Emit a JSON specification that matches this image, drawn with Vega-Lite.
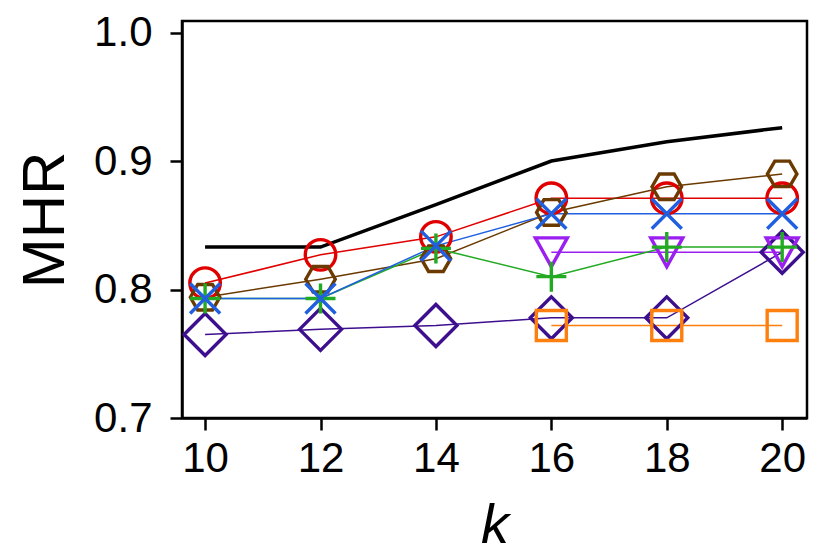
{
  "$schema": "https://vega.github.io/schema/vega-lite/v6.json",
  "width": 625,
  "height": 397,
  "autosize": {"type": "none"},
  "padding": {"left": 182, "top": 21, "right": 23, "bottom": 136},
  "background": "white",
  "config": {
    "view": {"stroke": "black", "strokeWidth": 2.5},
    "font": "Liberation Sans",
    "axis": {
      "grid": false,
      "domainColor": "black",
      "domainWidth": 2.5,
      "tickColor": "black",
      "tickWidth": 2.5,
      "tickSize": 12,
      "labelColor": "black",
      "labelFont": "Liberation Sans",
      "labelFontSize": 42,
      "titleColor": "black",
      "titleFont": "Liberation Sans",
      "titleFontWeight": "normal"
    }
  },
  "data": {
    "values": [
      {"k": 10, "mhr": 0.833, "series": "line"},
      {"k": 12, "mhr": 0.833, "series": "line"},
      {"k": 14, "mhr": 0.866, "series": "line"},
      {"k": 16, "mhr": 0.900, "series": "line"},
      {"k": 18, "mhr": 0.915, "series": "line"},
      {"k": 20, "mhr": 0.926, "series": "line"},
      {"k": 10, "mhr": 0.765, "series": "diamond"},
      {"k": 12, "mhr": 0.769, "series": "diamond"},
      {"k": 14, "mhr": 0.772, "series": "diamond"},
      {"k": 16, "mhr": 0.778, "series": "diamond"},
      {"k": 18, "mhr": 0.778, "series": "diamond"},
      {"k": 20, "mhr": 0.829, "series": "diamond"},
      {"k": 10, "mhr": 0.805, "series": "circle"},
      {"k": 12, "mhr": 0.827, "series": "circle"},
      {"k": 14, "mhr": 0.841, "series": "circle"},
      {"k": 16, "mhr": 0.871, "series": "circle"},
      {"k": 18, "mhr": 0.871, "series": "circle"},
      {"k": 20, "mhr": 0.871, "series": "circle"},
      {"k": 10, "mhr": 0.794, "series": "hexagon"},
      {"k": 12, "mhr": 0.808, "series": "hexagon"},
      {"k": 14, "mhr": 0.824, "series": "hexagon"},
      {"k": 16, "mhr": 0.860, "series": "hexagon"},
      {"k": 18, "mhr": 0.880, "series": "hexagon"},
      {"k": 20, "mhr": 0.890, "series": "hexagon"},
      {"k": 16, "mhr": 0.829, "series": "triangle"},
      {"k": 18, "mhr": 0.829, "series": "triangle"},
      {"k": 20, "mhr": 0.829, "series": "triangle"},
      {"k": 16, "mhr": 0.772, "series": "square"},
      {"k": 18, "mhr": 0.772, "series": "square"},
      {"k": 20, "mhr": 0.772, "series": "square"},
      {"k": 10, "mhr": 0.793, "series": "plus"},
      {"k": 12, "mhr": 0.793, "series": "plus"},
      {"k": 14, "mhr": 0.832, "series": "plus"},
      {"k": 16, "mhr": 0.810, "series": "plus"},
      {"k": 18, "mhr": 0.833, "series": "plus"},
      {"k": 20, "mhr": 0.833, "series": "plus"},
      {"k": 10, "mhr": 0.793, "series": "cross"},
      {"k": 12, "mhr": 0.793, "series": "cross"},
      {"k": 14, "mhr": 0.834, "series": "cross"},
      {"k": 16, "mhr": 0.859, "series": "cross"},
      {"k": 18, "mhr": 0.859, "series": "cross"},
      {"k": 20, "mhr": 0.859, "series": "cross"}
    ]
  },
  "encoding": {
    "x": {
      "field": "k",
      "type": "quantitative",
      "scale": {"domain": [9.6, 20.43], "nice": false, "zero": false},
      "axis": {
        "values": [10, 12, 14, 16, 18, 20],
        "labelPadding": 8,
        "title": "k",
        "titleFontSize": 56,
        "titleFontStyle": "italic",
        "titleBaseline": "alphabetic",
        "titleY": 124
      }
    },
    "y": {
      "field": "mhr",
      "type": "quantitative",
      "scale": {"domain": [0.7, 1.009], "nice": false, "zero": false},
      "axis": {
        "values": [0.7, 0.8, 0.9, 1.0],
        "format": ".1f",
        "labelPadding": 18,
        "title": "MHR",
        "titleFontSize": 60,
        "titleBaseline": "alphabetic",
        "titleX": -119
      }
    },
    "color": {
      "field": "series",
      "type": "nominal",
      "legend": null,
      "scale": {
        "domain": ["line", "circle", "hexagon", "cross", "plus", "triangle", "square", "diamond"],
        "range": ["#000000", "#e00000", "#6b3a00", "#1f5fe0", "#22aa22", "#9b1ff0", "#ff7f0e", "#3d0f8f"]
      }
    }
  },
  "layer": [
    {
      "transform": [{"filter": "datum.series === 'line'"}],
      "mark": {"type": "line", "strokeWidth": 3.5}
    },
    {
      "transform": [{"filter": "datum.series !== 'line'"}],
      "mark": {"type": "line", "strokeWidth": 1.5}
    },
    {
      "transform": [{"filter": "datum.series === 'diamond'"}],
      "mark": {"type": "point", "filled": false, "opacity": 1, "strokeWidth": 3.4, "size": 1764, "shape": "M-1,0L0,-1L1,0L0,1Z"}
    },
    {
      "transform": [{"filter": "datum.series === 'circle'"}],
      "mark": {"type": "point", "filled": false, "opacity": 1, "strokeWidth": 3.4, "size": 930, "shape": "circle"}
    },
    {
      "transform": [{"filter": "datum.series === 'hexagon'"}],
      "mark": {"type": "point", "filled": false, "opacity": 1, "strokeWidth": 3.4, "size": 870, "shape": "M-1,0L-0.5,-0.866L0.5,-0.866L1,0L0.5,0.866L-0.5,0.866Z"}
    },
    {
      "transform": [{"filter": "datum.series === 'triangle'"}],
      "mark": {"type": "point", "filled": false, "opacity": 1, "strokeWidth": 3.4, "size": 1024, "shape": "M-1,-0.9L1,-0.9L0,0.9Z"}
    },
    {
      "transform": [{"filter": "datum.series === 'square'"}],
      "mark": {"type": "point", "filled": false, "opacity": 1, "strokeWidth": 3.4, "size": 900, "shape": "square"}
    },
    {
      "transform": [{"filter": "datum.series === 'plus'"}],
      "mark": {"type": "point", "filled": false, "opacity": 1, "strokeWidth": 3.4, "size": 900, "shape": "M-1,0L1,0M0,-1L0,1"}
    },
    {
      "transform": [{"filter": "datum.series === 'cross'"}],
      "mark": {"type": "point", "filled": false, "opacity": 1, "strokeWidth": 3.4, "size": 900, "shape": "M-1,-1L1,1M-1,1L1,-1"}
    }
  ]
}
